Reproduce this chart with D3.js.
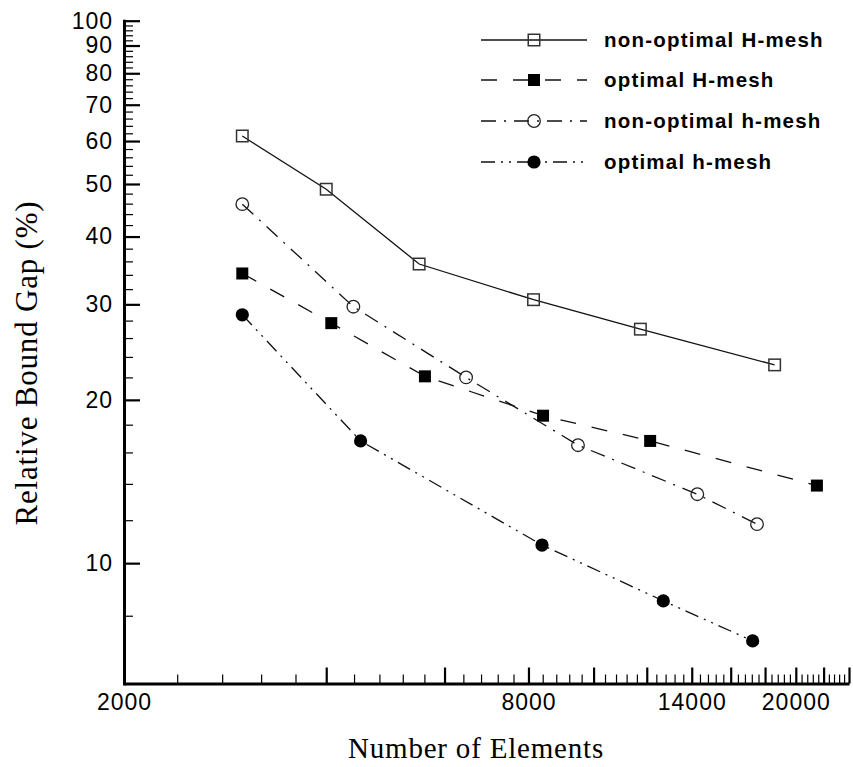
<!DOCTYPE html>
<html>
<head>
<meta charset="utf-8">
<script src="https://cdn.jsdelivr.net/npm/d3@7"></script>
<style>
  body { margin: 0; background: #fff; }
  svg { display: block; }
  .tick text { font-family: "Liberation Sans", Arial, sans-serif; font-size: 23px; letter-spacing: 1px; fill: #000; }
</style>
</head>
<body>
<div id="chart"></div>
<script>
// values
const seriesNames = ["non-optimal H-mesh", "optimal H-mesh", "non-optimal h-mesh", "optimal h-mesh"];

const nonOptHElems = [3000, 4000, 5500, 8140, 11740, 18600];
const nonOptHGap   = [61.3, 48.9, 35.6, 30.6, 27.0, 23.2];

const optHElems = [3000, 4070, 5610, 8410, 12140, 21500];
const optHGap   = [34.2, 27.7, 22.1, 18.7, 16.8, 13.9];

const nonOpthElems = [3000, 4390, 6460, 9480, 14270, 17510];
const nonOpthGap   = [45.9, 29.7, 22.0, 16.5, 13.4, 11.8];

const opthElems = [3000, 4500, 8380, 12700, 17250];
const opthGap   = [28.7, 16.8, 10.8, 8.52, 7.19];

const xMajorTicks = [2000, 4000, 6000, 8000, 10000, 12000, 14000, 16000, 18000, 20000, 22000, 24000];
const xTickLabels = [2000, 8000, 14000, 20000];
const yMajorTicks = [10, 20, 30, 40, 50, 60, 70, 80, 90, 100];
const yTickLabels = [10, 20, 30, 40, 50, 60, 70, 80, 90, 100];

const W = 853, H = 767;

const svg = d3.select("#chart").append("svg")
    .attr("width", W)
    .attr("height", H);

const x = d3.scaleLog().domain([2000, 24000]).range([124, 849]);
const y = d3.scaleLog().domain([6, 100]).range([683.5, 20.7]);

// minor ticks every 400 on x, every 2 on y
const xMinor = d3.range(2400, 24000, 400).filter(v => v % 2000 !== 0);
const yMinor = d3.range(8, 100, 2).filter(v => v % 10 !== 0);

// x axis
svg.append("g")
    .attr("transform", "translate(0," + y(6) + ")")
    .call(d3.axisBottom(x).tickValues(xMinor).tickSize(-9).tickFormat(""))
    .call(g => g.select(".domain").remove())
    .selectAll("line").attr("stroke", "#000").attr("stroke-width", 1.2);

svg.append("g")
    .attr("transform", "translate(0," + y(6) + ")")
    .call(d3.axisBottom(x).tickValues(xMajorTicks).tickSize(-16).tickSizeOuter(0).tickPadding(10)
        .tickFormat(d => xTickLabels.includes(d) ? d : ""))
    .call(g => g.select(".domain").attr("stroke", "#000").attr("stroke-width", 3))
    .selectAll("line").attr("stroke", "#000").attr("stroke-width", 2.2);

// y axis
svg.append("g")
    .attr("transform", "translate(" + x(2000) + ",0)")
    .call(d3.axisLeft(y).tickValues(yMinor).tickSize(-9).tickFormat(""))
    .call(g => g.select(".domain").remove())
    .selectAll("line").attr("stroke", "#000").attr("stroke-width", 1.2);

svg.append("g")
    .attr("transform", "translate(" + x(2000) + ",0)")
    .call(d3.axisLeft(y).tickValues(yMajorTicks).tickSize(-16).tickSizeOuter(0).tickPadding(11)
        .tickFormat(d => yTickLabels.includes(d) ? d : ""))
    .call(g => g.select(".domain").attr("stroke", "#000").attr("stroke-width", 3).attr("stroke-linecap", "square"))
    .selectAll("line").attr("stroke", "#000").attr("stroke-width", 2.2);

// axis titles
svg.append("text")
    .attr("x", 476)
    .attr("y", 758)
    .attr("text-anchor", "middle")
    .style("font-family", "'Liberation Serif', 'Times New Roman', serif")
    .style("font-size", "29px")
    .style("letter-spacing", "0.8px")
    .text("Number of Elements");

svg.append("text")
    .attr("transform", "translate(37,363) rotate(-90)")
    .attr("text-anchor", "middle")
    .style("font-family", "'Liberation Serif', 'Times New Roman', serif")
    .style("font-size", "31px")
    .style("letter-spacing", "0.8px")
    .text("Relative Bound Gap (%)");

// series
const series = [
  { name: seriesNames[0], xs: nonOptHElems, ys: nonOptHGap, dash: null, shape: "square", fill: false },
  { name: seriesNames[1], xs: optHElems, ys: optHGap, dash: "16,16", shape: "square", fill: true },
  { name: seriesNames[2], xs: nonOpthElems, ys: nonOpthGap, dash: "15,8,2,8", shape: "circle", fill: false },
  { name: seriesNames[3], xs: opthElems, ys: opthGap, dash: "14,6,2,6,2,6", shape: "circle", fill: true }
];

const line = d3.line().x(d => x(d[0])).y(d => y(d[1]));

function drawMarker(g, cx, cy, s) {
  if (s.shape === "square") {
    const size = s.fill ? 12 : 11.5;
    g.append("rect")
      .attr("x", cx - size / 2).attr("y", cy - size / 2)
      .attr("width", size).attr("height", size)
      .attr("fill", s.fill ? "#000" : "none")
      .attr("stroke", s.fill ? "none" : "#333")
      .attr("stroke-width", 1.5);
  } else {
    g.append("circle")
      .attr("cx", cx).attr("cy", cy)
      .attr("r", s.fill ? 6.6 : 6.3)
      .attr("fill", s.fill ? "#000" : "none")
      .attr("stroke", s.fill ? "none" : "#222")
      .attr("stroke-width", 1.3);
  }
}

series.forEach(s => {
  const pts = s.xs.map((v, i) => [v, s.ys[i]]);
  const g = svg.append("g");
  g.append("path")
    .datum(pts)
    .attr("d", line)
    .attr("fill", "none")
    .attr("stroke", "#111")
    .attr("stroke-width", 1.3)
    .attr("stroke-dasharray", s.dash);
  pts.forEach(p => drawMarker(g, x(p[0]), y(p[1]), s));
});

// legend
const legendRows = [40, 80, 121, 162];
series.forEach((s, i) => {
  const g = svg.append("g");
  const ly = legendRows[i];
  g.append("line")
    .attr("x1", 481).attr("x2", 587)
    .attr("y1", ly).attr("y2", ly)
    .attr("stroke", "#111")
    .attr("stroke-width", 1.3)
    .attr("stroke-dasharray", s.dash);
  drawMarker(g, 534, ly, s);
  g.append("text")
    .attr("x", 604)
    .attr("y", ly + 7)
    .style("font-family", "'Liberation Sans', Arial, sans-serif")
    .style("font-weight", "bold")
    .style("font-size", "20.5px")
    .style("letter-spacing", "1.2px")
    .text(s.name);
});
</script>
</body>
</html>
